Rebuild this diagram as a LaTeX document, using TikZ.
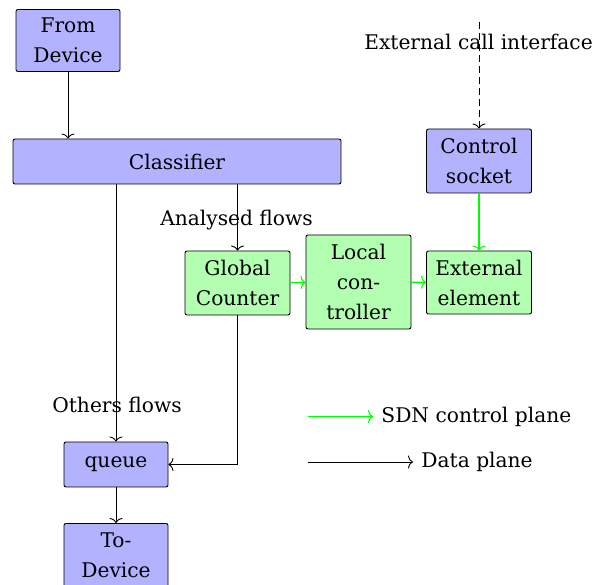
\documentclass[tikz,border=0pt]{standalone}
\usepackage{fontspec}
\setmainfont{DejaVu Serif}
\usetikzlibrary{arrows.meta}
\begin{document}
\begin{tikzpicture}[x=1pt,y=-1pt,line width=0.9pt,
  >={To[length=5pt,width=13pt]},
  txt/.style={font=\fontsize{20.2}{30}\selectfont, inner sep=0pt, text=black},
  box/.style={txt, draw=black, rounded corners=2pt, fill=blue!30, align=center},
  gbox/.style={box, fill=green!30},
  darr/.style={->, draw=black},
  garr/.style={->, draw=green, line width=1.1pt}]
\useasboundingbox (0,0) rectangle (595,585);
% nodes
\node[box, minimum width=104pt, minimum height=62pt] (from) at (68,40.5) {From\\Device};
\node[box, minimum width=328pt, minimum height=45pt] (cls) at (177,161.5) {Classifier};
\node[box, minimum width=105pt, minimum height=64pt] (cs) at (479,161) {Control\\socket};
\node[gbox, minimum width=105pt, minimum height=64pt] (gc) at (237.5,283) {Global\\Counter};
\node[gbox, minimum width=105pt, minimum height=94pt] (lc) at (358.5,282) {Local\\con-\\troller};
\node[gbox, minimum width=105pt, minimum height=63pt] (ee) at (479,282.5) {External\\element};
\node[box, minimum width=104pt, minimum height=45pt] (q) at (116,464.5) {queue};
\node[box, minimum width=104pt, minimum height=64pt, anchor=north] (to) at (116,523) {To-\\Device};
% labels
\node[txt] (eci) at (478.5,42) {External call interface};
\node[txt] (af) at (236.5,220) {Analysed flows};
\node[txt] (of) at (117,405) {Others flows};
\coordinate (top) at (479,22);
% connectors
\draw[darr] (from) -- (from |- cls.north);
\draw[darr, dash pattern=on 7pt off 4pt] (top) -- (cs);
\draw[garr] (cs) -- (ee);
\draw[darr] (cls.south -| gc.north) -- (gc);
\draw[garr] (gc) -- (lc);
\draw[garr] (lc) -- (ee);
\draw[darr] (cls.south -| q.north) -- (q);
\draw[darr] (gc.south) |- (q.east);
\draw[darr] (q) -- (to);
% legend
\coordinate (l1a) at (308,416.5);
\coordinate (l1b) at (373,416.5);
\coordinate (l2a) at (308,462);
\coordinate (l2b) at (413,462);
\node[txt, anchor=west] (lsdn) at ([xshift=8pt]l1b) {SDN control plane};
\node[txt, anchor=west] (ldata) at ([xshift=8pt]l2b) {Data plane};
\draw[garr] (l1a) -- (l1b);
\draw[darr] (l2a) -- (l2b);
\end{tikzpicture}
\end{document}
